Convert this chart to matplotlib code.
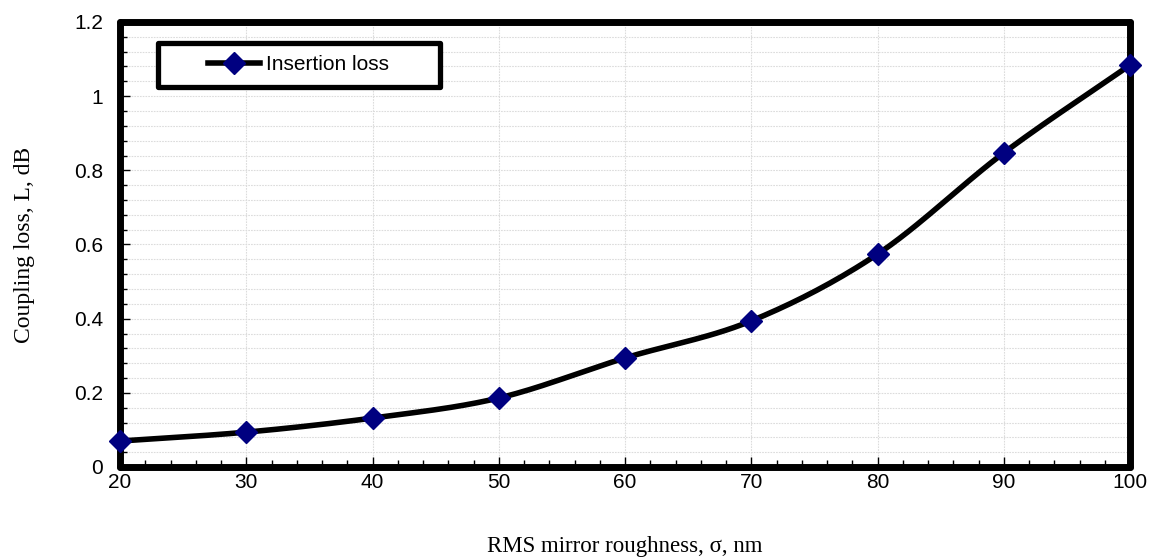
import numpy as np
import matplotlib
matplotlib.use("Agg")
import matplotlib.pyplot as plt
from matplotlib.ticker import MultipleLocator, FuncFormatter
from matplotlib.patches import Rectangle

roughness = [20, 30, 40, 50, 60, 70, 80, 90, 100]
insertion_loss = [0.070, 0.094, 0.132, 0.186, 0.294, 0.394, 0.574, 0.847, 1.084]
series_name = "Insertion loss"
x_label = "RMS mirror roughness, σ, nm"
y_label = "Coupling loss, L, dB"


def smooth(xs, ys, n=30, t=0.5):
    # Catmull-Rom style smoothing similar to spreadsheet "smoothed line"
    xs = np.asarray(xs, float); ys = np.asarray(ys, float)
    px = np.concatenate([[2 * xs[0] - xs[1]], xs, [2 * xs[-1] - xs[-2]]])
    py = np.concatenate([[2 * ys[0] - ys[1]], ys, [2 * ys[-1] - ys[-2]]])
    ox, oy = [], []
    for i in range(1, len(px) - 2):
        p0 = np.array([px[i - 1], py[i - 1]]); p1 = np.array([px[i], py[i]])
        p2 = np.array([px[i + 1], py[i + 1]]); p3 = np.array([px[i + 2], py[i + 2]])
        c1 = p1 + (p2 - p0) * t / 3
        c2 = p2 - (p3 - p1) * t / 3
        s = np.linspace(0, 1, n)[:, None]
        b = (1 - s) ** 3 * p1 + 3 * (1 - s) ** 2 * s * c1 + 3 * (1 - s) * s ** 2 * c2 + s ** 3 * p2
        ox.extend(b[:, 0]); oy.extend(b[:, 1])
    return np.array(ox), np.array(oy)


W, H = 1152, 558
fig = plt.figure(figsize=(W / 100, H / 100), dpi=100)
ax = fig.add_axes([120 / W, 1 - 467 / H, 1010 / W, 445 / H])

sx, sy = smooth(roughness, insertion_loss)
ax.plot(sx, sy, color="black", lw=4, solid_capstyle="round", zorder=3, clip_on=False)
ax.plot(roughness, insertion_loss, linestyle="none", marker="D", ms=11,
        color="#000080", mec="#000080", zorder=4, clip_on=False)
handle, = ax.plot([], [], color="black", lw=4, marker="D", ms=11,
                  mfc="#000080", mec="#000080")

ax.set_xlim(20, 100)
ax.set_ylim(0, 1.2)
ax.xaxis.set_major_locator(MultipleLocator(10))
ax.xaxis.set_minor_locator(MultipleLocator(2))
ax.yaxis.set_major_locator(MultipleLocator(0.2))
ax.yaxis.set_minor_locator(MultipleLocator(0.04))
ax.yaxis.set_major_formatter(FuncFormatter(lambda v, p: f"{v:g}"))

ax.grid(True, which="major", axis="x", color="#dcdcdc", lw=0.8, ls=(0, (1.5, 1)))
ax.grid(True, which="both", axis="y", color="#dcdcdc", lw=0.8, ls=(0, (1.5, 1)))
ax.set_axisbelow(True)

ax.tick_params(which="both", direction="in", color="black", width=1)
ax.tick_params(which="major", length=7, labelsize=15)
ax.tick_params(axis="x", which="major", pad=4)
ax.tick_params(axis="y", which="major", pad=12)
ax.tick_params(which="minor", length=5)
for lab in ax.get_xticklabels() + ax.get_yticklabels():
    lab.set_family("Liberation Sans")

for sp in ax.spines.values():
    sp.set_linewidth(5)
    sp.set_joinstyle("round")
    sp.set_capstyle("round")

ax.set_xlabel(x_label, family="Liberation Serif", fontsize=16.5, labelpad=32)
ax.set_ylabel(y_label, family="Liberation Serif", fontsize=17, labelpad=28)

# legend box (pixel geometry from the reference)
box = Rectangle((158 / W, 1 - 87 / H), (440 - 158) / W, (87 - 43) / H,
                transform=fig.transFigure, facecolor="white", edgecolor="black",
                lw=3.8, joinstyle="round", zorder=5)
ax.add_artist(box)
box.set_clip_on(False)
leg = ax.legend([handle], [series_name], loc="center left",
                bbox_to_anchor=(208 / W, 1 - 65 / H), bbox_transform=fig.transFigure,
                frameon=False, prop={"family": "Liberation Sans", "size": 15},
                handlelength=2.5, handletextpad=0.3, borderaxespad=0, borderpad=0)
leg.set_zorder(6)

fig.savefig("out.png", dpi=100)
